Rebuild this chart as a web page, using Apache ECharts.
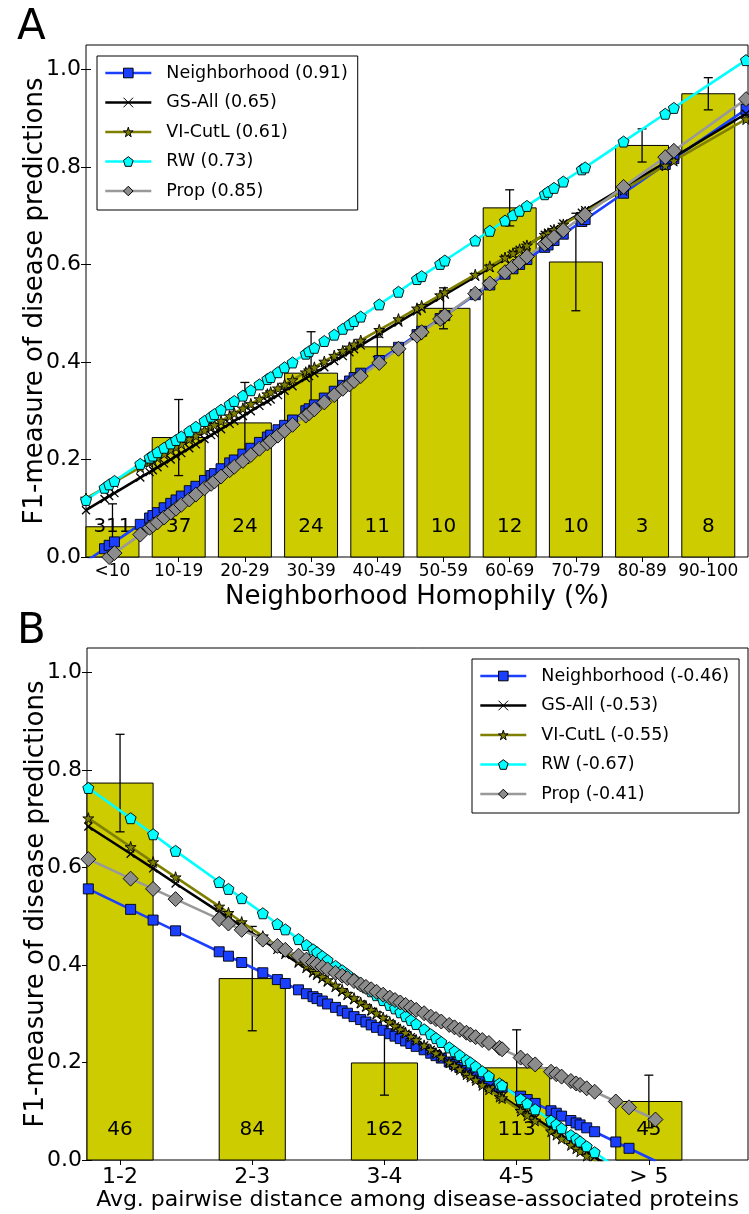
<!DOCTYPE html>
<html><head><meta charset="utf-8">
<script src="https://cdn.jsdelivr.net/npm/echarts@6/dist/echarts.min.js"></script>
<style>html,body{margin:0;padding:0;background:#fff}#c{width:749px;height:1214px}</style>
</head><body><div id="c"></div>
<script>
// ---------- DATA ----------
const methodNames = ['Neighborhood', 'GS-All', 'VI-CutL', 'RW', 'Prop'];
const corrA = ['0.91', '0.65', '0.61', '0.73', '0.85'];
const corrB = ['-0.46', '-0.53', '-0.55', '-0.67', '-0.41'];
const yTicks = [0, 0.2, 0.4, 0.6, 0.8, 1.0];

// Panel A
const catsA = ['<10', '10-19', '20-29', '30-39', '40-49', '50-59', '60-69', '70-79', '80-89', '90-100'];
const barsA = [0.062, 0.245, 0.275, 0.377, 0.431, 0.510, 0.716, 0.605, 0.844, 0.950];
const errA = [0.047, 0.078, 0.083, 0.085, 0.020, 0.042, 0.037, 0.100, 0.034, 0.033];
const countsA = [311, 37, 24, 24, 11, 10, 12, 10, 3, 8];
const xsA = [0.00,0.28,0.35,0.43,0.82,0.96,1.01,1.08,1.18,1.28,
  1.36,1.44,1.56,1.66,1.79,1.89,1.94,2.04,2.17,2.24,
  2.37,2.49,2.62,2.74,2.79,2.90,3.00,3.12,3.32,3.37,
  3.45,3.60,3.75,3.88,3.98,4.05,4.15,4.43,4.72,5.00,
  5.07,5.35,5.42,5.88,6.10,6.33,6.45,6.55,6.66,6.93,
  6.98,7.07,7.21,7.49,7.54,8.12,8.75,8.88,9.97];
const nbA = [-0.009,0.017,0.024,0.031,0.067,0.080,0.085,0.091,0.101,0.110,
  0.117,0.125,0.136,0.145,0.157,0.167,0.171,0.181,0.193,0.199,
  0.211,0.223,0.235,0.246,0.250,0.261,0.270,0.281,0.300,0.304,
  0.312,0.326,0.340,0.352,0.361,0.368,0.377,0.403,0.430,0.456,
  0.463,0.489,0.495,0.538,0.558,0.580,0.591,0.600,0.610,0.635,
  0.640,0.649,0.662,0.688,0.692,0.746,0.805,0.817,0.918];
const gsA = [0.096,0.119,0.125,0.131,0.163,0.174,0.178,0.184,0.192,0.200,
  0.207,0.213,0.223,0.231,0.242,0.250,0.254,0.262,0.273,0.279,
  0.289,0.299,0.310,0.319,0.323,0.332,0.341,0.350,0.367,0.371,
  0.377,0.389,0.402,0.412,0.420,0.426,0.434,0.457,0.481,0.504,
  0.509,0.532,0.538,0.575,0.593,0.612,0.622,0.630,0.639,0.661,
  0.665,0.672,0.684,0.706,0.711,0.758,0.809,0.820,0.909];
const viA = [0.120,0.142,0.147,0.154,0.184,0.195,0.199,0.204,0.212,0.220,
  0.226,0.232,0.242,0.249,0.260,0.267,0.271,0.279,0.289,0.295,
  0.305,0.314,0.324,0.334,0.338,0.346,0.354,0.363,0.379,0.383,
  0.389,0.401,0.413,0.423,0.430,0.436,0.444,0.466,0.488,0.510,
  0.515,0.537,0.543,0.579,0.596,0.614,0.623,0.631,0.639,0.661,
  0.664,0.671,0.682,0.704,0.708,0.753,0.803,0.813,0.898];
const rwA = [0.117,0.142,0.149,0.156,0.191,0.204,0.208,0.215,0.224,0.233,
  0.240,0.247,0.258,0.267,0.279,0.288,0.293,0.302,0.313,0.320,
  0.331,0.342,0.354,0.365,0.369,0.379,0.389,0.399,0.417,0.422,
  0.429,0.443,0.456,0.468,0.477,0.484,0.493,0.518,0.544,0.570,
  0.576,0.601,0.608,0.649,0.669,0.690,0.701,0.710,0.720,0.744,
  0.749,0.757,0.770,0.795,0.799,0.852,0.909,0.921,1.019];
const propA = [-0.034,-0.007,0.000,0.008,0.046,0.060,0.065,0.071,0.081,0.091,
  0.099,0.107,0.118,0.128,0.141,0.150,0.155,0.165,0.178,0.185,
  0.197,0.209,0.222,0.233,0.238,0.249,0.259,0.271,0.290,0.295,
  0.303,0.317,0.332,0.345,0.354,0.361,0.371,0.398,0.427,0.454,
  0.461,0.488,0.495,0.540,0.561,0.584,0.596,0.605,0.616,0.642,
  0.647,0.656,0.670,0.697,0.702,0.759,0.820,0.833,0.939];

// Panel B
const catsB = ['1-2', '2-3', '3-4', '4-5', '> 5'];
const barsB = [0.773, 0.372, 0.199, 0.189, 0.120];
const errB = [0.100, 0.107, 0.066, 0.078, 0.054];
const countsB = [46, 84, 162, 113, 45];
const xsB = [0.01,0.33,0.50,0.67,1.00,1.07,1.17,1.33,1.44,1.50,
  1.60,1.66,1.71,1.74,1.78,1.82,1.88,1.93,1.97,2.02,
  2.07,2.11,2.15,2.19,2.24,2.29,2.33,2.37,2.41,2.45,
  2.49,2.55,2.60,2.64,2.68,2.74,2.78,2.82,2.87,2.90,
  2.94,2.99,3.04,3.12,3.14,3.28,3.33,3.39,3.51,3.55,
  3.59,3.66,3.70,3.73,3.78,3.84,4.00,4.10,4.30];
const nbB = [0.556,0.514,0.492,0.470,0.427,0.418,0.405,0.384,0.370,0.362,
  0.349,0.341,0.335,0.331,0.326,0.320,0.313,0.306,0.301,0.294,
  0.288,0.283,0.277,0.272,0.266,0.259,0.254,0.249,0.244,0.239,
  0.233,0.226,0.219,0.214,0.209,0.201,0.196,0.190,0.184,0.180,
  0.175,0.168,0.162,0.151,0.149,0.131,0.124,0.116,0.101,0.096,
  0.090,0.081,0.076,0.072,0.066,0.058,0.037,0.024,-0.002];
const gsB = [0.684,0.628,0.598,0.567,0.509,0.497,0.479,0.451,0.431,0.421,
  0.403,0.392,0.383,0.378,0.371,0.364,0.353,0.344,0.337,0.328,
  0.320,0.313,0.305,0.298,0.290,0.281,0.274,0.267,0.259,0.252,
  0.245,0.235,0.226,0.219,0.212,0.201,0.194,0.187,0.178,0.173,
  0.166,0.157,0.148,0.134,0.130,0.105,0.097,0.086,0.065,0.058,
  0.051,0.038,0.031,0.026,0.017,0.006,-0.022,-0.040,-0.075];
const viB = [0.701,0.642,0.611,0.580,0.520,0.507,0.488,0.459,0.439,0.428,
  0.409,0.398,0.389,0.384,0.376,0.369,0.358,0.349,0.341,0.332,
  0.323,0.316,0.308,0.301,0.292,0.283,0.275,0.268,0.261,0.253,
  0.246,0.235,0.226,0.219,0.211,0.200,0.193,0.186,0.176,0.171,
  0.164,0.154,0.145,0.130,0.127,0.101,0.092,0.081,0.059,0.052,
  0.044,0.031,0.024,0.018,0.009,-0.002,-0.031,-0.049,-0.086];
const rwB = [0.763,0.701,0.668,0.634,0.570,0.556,0.537,0.506,0.484,0.473,
  0.453,0.441,0.432,0.426,0.418,0.410,0.398,0.389,0.381,0.371,
  0.361,0.354,0.346,0.338,0.328,0.318,0.311,0.303,0.295,0.287,
  0.279,0.268,0.258,0.250,0.242,0.231,0.223,0.215,0.205,0.200,
  0.192,0.182,0.172,0.157,0.153,0.125,0.116,0.104,0.081,0.073,
  0.065,0.051,0.044,0.038,0.028,0.016,-0.015,-0.035,-0.074];
const propB = [0.617,0.577,0.556,0.535,0.494,0.485,0.472,0.452,0.439,0.431,
  0.419,0.411,0.405,0.401,0.396,0.391,0.384,0.378,0.373,0.367,
  0.360,0.355,0.350,0.345,0.339,0.333,0.328,0.323,0.318,0.313,
  0.308,0.301,0.294,0.289,0.284,0.277,0.272,0.267,0.261,0.257,
  0.252,0.246,0.240,0.230,0.227,0.210,0.203,0.196,0.181,0.176,
  0.171,0.162,0.157,0.154,0.147,0.140,0.120,0.108,0.083];

// ---------- STYLE ----------
const FONT = 'DejaVu Sans';
const BAR_COLOR = '#cccc00';
const BAR_W_A = 0.8, BAR_W_B = 0.5;
const STAR = 'path://M50,0 L61,35 L98,35 L68,57 L79,91 L50,70 L21,91 L32,57 L2,35 L39,35 Z';
const PENT = 'path://M50,0 L98,36 L80,95 L20,95 L2,36 Z';
const CROSS = 'path://M0,0 L10,10 M10,0 L0,10';
const seriesStyles = [
  {line: '#1a3fff', fill: '#1a3fff', symbol: 'rect', size: 10},
  {line: '#000000', fill: '#000000', symbol: CROSS, size: 8},
  {line: '#808000', fill: '#808000', symbol: STAR, size: 11},
  {line: '#00ffff', fill: '#00ffff', symbol: PENT, size: 11},
  {line: '#999999', fill: '#8c8c8c', symbol: 'diamond', size: 15}
];

const tickPosA = catsA.map((c, i) => i + BAR_W_A / 2);
const tickPosB = catsB.map((c, i) => i + BAR_W_B / 2);

function makeBarRenderer(barW) {
  return function (params, api) {
    const i = api.value(0), v = api.value(1), e = api.value(2), n = api.value(3);
    const bl = api.coord([i, 0]);
    const tr = api.coord([i + barW, v]);
    const c = api.coord([i + barW / 2, v]);
    const hi = api.coord([i + barW / 2, v + e]);
    const lo = api.coord([i + barW / 2, v - e]);
    const cap = 4.5;
    const ls = {stroke: '#000', lineWidth: 1.3};
    return {
      type: 'group',
      children: [
        {type: 'rect', shape: {x: bl[0], y: tr[1], width: tr[0] - bl[0], height: bl[1] - tr[1]},
          style: {fill: BAR_COLOR, stroke: '#000', lineWidth: 1}},
        {type: 'text', style: {text: String(n), x: c[0], y: bl[1] - 30, align: 'center', verticalAlign: 'middle',
          fill: '#000', font: '20px "' + FONT + '"'}},
        {type: 'line', shape: {x1: c[0], y1: hi[1], x2: c[0], y2: lo[1]}, style: ls},
        {type: 'line', shape: {x1: c[0] - cap, y1: hi[1], x2: c[0] + cap, y2: hi[1]}, style: ls},
        {type: 'line', shape: {x1: c[0] - cap, y1: lo[1], x2: c[0] + cap, y2: lo[1]}, style: ls}
      ]
    };
  };
}

function lineSeries(name, xs, ys, k, xi, yi) {
  const s = seriesStyles[k];
  return {
    type: 'line', name: name, xAxisIndex: xi, yAxisIndex: yi,
    data: xs.map((x, i) => [x, ys[i]]),
    symbol: s.symbol, symbolSize: s.size, showSymbol: true, clip: true,
    lineStyle: {color: s.line, width: 2.6},
    itemStyle: {color: s.fill, borderColor: '#000', borderWidth: k === 1 ? 1.3 : 0.9},
    emphasis: {disabled: true}, z: 3, animation: false
  };
}

function xAxes(gi, max, ticks, cats, fontSize, name, nameSize, nameGap) {
  return [
    {gridIndex: gi, type: 'value', min: 0, max: max, position: 'bottom',
      axisLine: {show: false}, splitLine: {show: false},
      axisTick: {show: true, inside: true, length: 5, customValues: ticks, lineStyle: {color: '#000', width: 1}},
      axisLabel: {customValues: ticks, formatter: v => cats[Math.round(v - ticks[0])], fontSize: fontSize,
        color: '#000', fontFamily: FONT, margin: 6},
      name: name, nameLocation: 'middle', nameGap: nameGap, nameMoveOverlap: false,
      nameTextStyle: {fontSize: nameSize, color: '#000', fontFamily: FONT}},
    {gridIndex: gi, type: 'value', min: 0, max: max, position: 'top',
      axisLine: {show: false}, splitLine: {show: false},
      axisTick: {show: true, inside: true, length: 5, customValues: ticks, lineStyle: {color: '#000', width: 1}},
      axisLabel: {show: false}}
  ];
}
function yAxes(gi) {
  return [
    {gridIndex: gi, type: 'value', min: 0, max: 1.05, position: 'left',
      axisLine: {show: false}, splitLine: {show: false},
      axisTick: {show: true, inside: true, length: 5, customValues: yTicks, lineStyle: {color: '#000', width: 1}},
      axisLabel: {customValues: yTicks, formatter: v => v.toFixed(1), fontSize: 22, color: '#000',
        fontFamily: FONT, margin: 5},
      name: 'F1-measure of disease predictions', nameLocation: 'middle', nameGap: 38, nameMoveOverlap: false,
      nameTextStyle: {fontSize: 26, color: '#000', fontFamily: FONT}},
    {gridIndex: gi, type: 'value', min: 0, max: 1.05, position: 'right',
      axisLine: {show: false}, splitLine: {show: false},
      axisTick: {show: true, inside: true, length: 5, customValues: yTicks, lineStyle: {color: '#000', width: 1}},
      axisLabel: {show: false}}
  ];
}

const namesA = methodNames.map((m, i) => m + ' (' + corrA[i] + ')');
const namesB = methodNames.map((m, i) => m + ' (' + corrB[i] + ')');
const ysA = [nbA, gsA, viA, rwA, propA];
const ysB = [nbB, gsB, viB, rwB, propB];

function legendFor(names, left, top) {
  return {
    data: names, orient: 'vertical', left: left, top: top,
    itemWidth: 46, itemHeight: 12, itemGap: 11.5, padding: [8, 10, 10, 7],
    borderColor: '#000', borderWidth: 1, borderRadius: 0, backgroundColor: '#fff',
    selectedMode: false, z: 10,
    itemStyle: {borderWidth: 1},
    lineStyle: {width: 2.6},
    textStyle: {fontSize: 17.5, color: '#000', fontFamily: FONT, padding: [0, 0, 0, 10]}
  };
}

const option = {
  animation: false,
  backgroundColor: '#fff',
  title: [
    {text: 'A', left: 12, top: 2, textStyle: {fontSize: 42, fontWeight: 'normal', color: '#000', fontFamily: FONT}},
    {text: 'B', left: 12, top: 606, textStyle: {fontSize: 42, fontWeight: 'normal', color: '#000', fontFamily: FONT}}
  ],
  grid: [
    {left: 86, top: 45, width: 662, height: 512, show: true, borderColor: '#000', borderWidth: 1, backgroundColor: 'transparent'},
    {left: 87, top: 648, width: 661, height: 512, show: true, borderColor: '#000', borderWidth: 1, backgroundColor: 'transparent'}
  ],
  xAxis: [
    ...xAxes(0, 10, tickPosA, catsA, 17, 'Neighborhood Homophily (%)', 26, 27),
    ...xAxes(1, 5, tickPosB, catsB, 22, 'Avg. pairwise distance among disease-associated proteins', 22, 29)
  ],
  yAxis: [...yAxes(0), ...yAxes(1)],
  legend: [legendFor(namesA, 97, 56), legendFor(namesB, 472, 659)],
  series: [
    {type: 'custom', xAxisIndex: 0, yAxisIndex: 0, renderItem: makeBarRenderer(BAR_W_A),
      encode: {x: 0, y: 1}, z: 1, silent: true,
      data: barsA.map((v, i) => [i, v, errA[i], countsA[i]])},
    ...namesA.map((n, k) => lineSeries(n, xsA, ysA[k], k, 0, 0)),
    {type: 'custom', xAxisIndex: 2, yAxisIndex: 2, renderItem: makeBarRenderer(BAR_W_B),
      encode: {x: 0, y: 1}, z: 1, silent: true,
      data: barsB.map((v, i) => [i, v, errB[i], countsB[i]])},
    ...namesB.map((n, k) => lineSeries(n, xsB, ysB[k], k, 2, 2))
  ]
};

const chart = echarts.init(document.getElementById('c'), null, {renderer: 'canvas'});
chart.setOption(option);
</script>
</body></html>
